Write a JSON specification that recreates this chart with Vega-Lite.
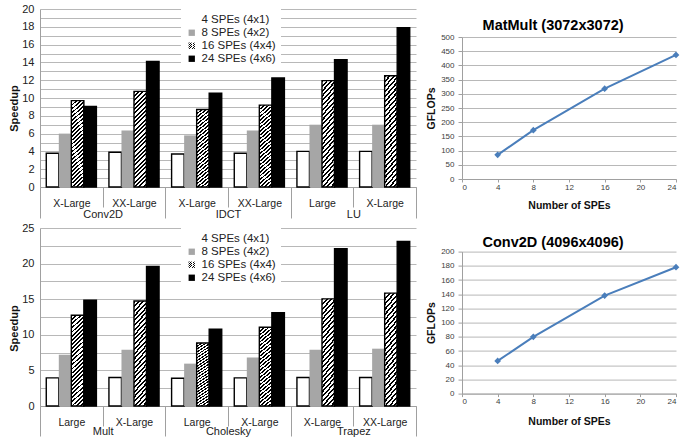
{
  "$schema": "https://vega.github.io/schema/vega-lite/v6.json",
  "padding": {"left": 8, "top": 3, "right": 0, "bottom": 0},
  "params": [
    {"name": "hatch", "expr": "{gradient:'linear',x1:0,y1:0,x2:0.1464,y2:1.1124,stops:[{offset:0,color:'#000'},{offset:0.018,color:'#000'},{offset:0.018,color:'#fff'},{offset:0.04,color:'#fff'},{offset:0.04,color:'#000'},{offset:0.058,color:'#000'},{offset:0.058,color:'#fff'},{offset:0.08,color:'#fff'},{offset:0.08,color:'#000'},{offset:0.098,color:'#000'},{offset:0.098,color:'#fff'},{offset:0.12,color:'#fff'},{offset:0.12,color:'#000'},{offset:0.138,color:'#000'},{offset:0.138,color:'#fff'},{offset:0.16,color:'#fff'},{offset:0.16,color:'#000'},{offset:0.178,color:'#000'},{offset:0.178,color:'#fff'},{offset:0.2,color:'#fff'},{offset:0.2,color:'#000'},{offset:0.218,color:'#000'},{offset:0.218,color:'#fff'},{offset:0.24,color:'#fff'},{offset:0.24,color:'#000'},{offset:0.258,color:'#000'},{offset:0.258,color:'#fff'},{offset:0.28,color:'#fff'},{offset:0.28,color:'#000'},{offset:0.298,color:'#000'},{offset:0.298,color:'#fff'},{offset:0.32,color:'#fff'},{offset:0.32,color:'#000'},{offset:0.338,color:'#000'},{offset:0.338,color:'#fff'},{offset:0.36,color:'#fff'},{offset:0.36,color:'#000'},{offset:0.378,color:'#000'},{offset:0.378,color:'#fff'},{offset:0.4,color:'#fff'},{offset:0.4,color:'#000'},{offset:0.418,color:'#000'},{offset:0.418,color:'#fff'},{offset:0.44,color:'#fff'},{offset:0.44,color:'#000'},{offset:0.458,color:'#000'},{offset:0.458,color:'#fff'},{offset:0.48,color:'#fff'},{offset:0.48,color:'#000'},{offset:0.498,color:'#000'},{offset:0.498,color:'#fff'},{offset:0.52,color:'#fff'},{offset:0.52,color:'#000'},{offset:0.538,color:'#000'},{offset:0.538,color:'#fff'},{offset:0.56,color:'#fff'},{offset:0.56,color:'#000'},{offset:0.578,color:'#000'},{offset:0.578,color:'#fff'},{offset:0.6,color:'#fff'},{offset:0.6,color:'#000'},{offset:0.618,color:'#000'},{offset:0.618,color:'#fff'},{offset:0.64,color:'#fff'},{offset:0.64,color:'#000'},{offset:0.658,color:'#000'},{offset:0.658,color:'#fff'},{offset:0.68,color:'#fff'},{offset:0.68,color:'#000'},{offset:0.698,color:'#000'},{offset:0.698,color:'#fff'},{offset:0.72,color:'#fff'},{offset:0.72,color:'#000'},{offset:0.738,color:'#000'},{offset:0.738,color:'#fff'},{offset:0.76,color:'#fff'},{offset:0.76,color:'#000'},{offset:0.778,color:'#000'},{offset:0.778,color:'#fff'},{offset:0.8,color:'#fff'},{offset:0.8,color:'#000'},{offset:0.818,color:'#000'},{offset:0.818,color:'#fff'},{offset:0.84,color:'#fff'},{offset:0.84,color:'#000'},{offset:0.858,color:'#000'},{offset:0.858,color:'#fff'},{offset:0.88,color:'#fff'},{offset:0.88,color:'#000'},{offset:0.898,color:'#000'},{offset:0.898,color:'#fff'},{offset:0.92,color:'#fff'},{offset:0.92,color:'#000'},{offset:0.938,color:'#000'},{offset:0.938,color:'#fff'},{offset:0.96,color:'#fff'},{offset:0.96,color:'#000'},{offset:0.978,color:'#000'},{offset:0.978,color:'#fff'},{offset:1,color:'#fff'}]}"}
  ],
  "datasets": {
    "speed1": [
      {"bench": "Conv2D", "cat": "Conv2D|X-Large", "series": "4 SPEs (4x1)", "v": 3.8},
      {"bench": "Conv2D", "cat": "Conv2D|X-Large", "series": "8 SPEs (4x2)", "v": 6.0},
      {"bench": "Conv2D", "cat": "Conv2D|X-Large", "series": "16 SPEs (4x4)", "v": 9.7},
      {"bench": "Conv2D", "cat": "Conv2D|X-Large", "series": "24 SPEs (4x6)", "v": 9.05},
      {"bench": "Conv2D", "cat": "Conv2D|XX-Large", "series": "4 SPEs (4x1)", "v": 3.9},
      {"bench": "Conv2D", "cat": "Conv2D|XX-Large", "series": "8 SPEs (4x2)", "v": 6.35},
      {"bench": "Conv2D", "cat": "Conv2D|XX-Large", "series": "16 SPEs (4x4)", "v": 10.75},
      {"bench": "Conv2D", "cat": "Conv2D|XX-Large", "series": "24 SPEs (4x6)", "v": 14.1},
      {"bench": "IDCT", "cat": "IDCT|X-Large", "series": "4 SPEs (4x1)", "v": 3.7},
      {"bench": "IDCT", "cat": "IDCT|X-Large", "series": "8 SPEs (4x2)", "v": 5.8},
      {"bench": "IDCT", "cat": "IDCT|X-Large", "series": "16 SPEs (4x4)", "v": 8.7},
      {"bench": "IDCT", "cat": "IDCT|X-Large", "series": "24 SPEs (4x6)", "v": 10.55},
      {"bench": "IDCT", "cat": "IDCT|XX-Large", "series": "4 SPEs (4x1)", "v": 3.8},
      {"bench": "IDCT", "cat": "IDCT|XX-Large", "series": "8 SPEs (4x2)", "v": 6.35},
      {"bench": "IDCT", "cat": "IDCT|XX-Large", "series": "16 SPEs (4x4)", "v": 9.2},
      {"bench": "IDCT", "cat": "IDCT|XX-Large", "series": "24 SPEs (4x6)", "v": 12.25},
      {"bench": "LU", "cat": "LU|Large", "series": "4 SPEs (4x1)", "v": 4.0},
      {"bench": "LU", "cat": "LU|Large", "series": "8 SPEs (4x2)", "v": 7.0},
      {"bench": "LU", "cat": "LU|Large", "series": "16 SPEs (4x4)", "v": 11.95},
      {"bench": "LU", "cat": "LU|Large", "series": "24 SPEs (4x6)", "v": 14.3},
      {"bench": "LU", "cat": "LU|X-Large", "series": "4 SPEs (4x1)", "v": 4.0},
      {"bench": "LU", "cat": "LU|X-Large", "series": "8 SPEs (4x2)", "v": 7.0},
      {"bench": "LU", "cat": "LU|X-Large", "series": "16 SPEs (4x4)", "v": 12.5},
      {"bench": "LU", "cat": "LU|X-Large", "series": "24 SPEs (4x6)", "v": 17.9}
    ],
    "speed2": [
      {"bench": "Mult", "cat": "Mult|Large", "series": "4 SPEs (4x1)", "v": 3.95},
      {"bench": "Mult", "cat": "Mult|Large", "series": "8 SPEs (4x2)", "v": 7.2},
      {"bench": "Mult", "cat": "Mult|Large", "series": "16 SPEs (4x4)", "v": 12.75},
      {"bench": "Mult", "cat": "Mult|Large", "series": "24 SPEs (4x6)", "v": 14.85},
      {"bench": "Mult", "cat": "Mult|X-Large", "series": "4 SPEs (4x1)", "v": 4.0},
      {"bench": "Mult", "cat": "Mult|X-Large", "series": "8 SPEs (4x2)", "v": 7.9},
      {"bench": "Mult", "cat": "Mult|X-Large", "series": "16 SPEs (4x4)", "v": 14.75},
      {"bench": "Mult", "cat": "Mult|X-Large", "series": "24 SPEs (4x6)", "v": 19.6},
      {"bench": "Cholesky", "cat": "Cholesky|Large", "series": "4 SPEs (4x1)", "v": 3.9},
      {"bench": "Cholesky", "cat": "Cholesky|Large", "series": "8 SPEs (4x2)", "v": 5.95},
      {"bench": "Cholesky", "cat": "Cholesky|Large", "series": "16 SPEs (4x4)", "v": 8.85},
      {"bench": "Cholesky", "cat": "Cholesky|Large", "series": "24 SPEs (4x6)", "v": 10.8},
      {"bench": "Cholesky", "cat": "Cholesky|X-Large", "series": "4 SPEs (4x1)", "v": 3.95},
      {"bench": "Cholesky", "cat": "Cholesky|X-Large", "series": "8 SPEs (4x2)", "v": 6.8},
      {"bench": "Cholesky", "cat": "Cholesky|X-Large", "series": "16 SPEs (4x4)", "v": 11.05},
      {"bench": "Cholesky", "cat": "Cholesky|X-Large", "series": "24 SPEs (4x6)", "v": 13.1},
      {"bench": "Trapez", "cat": "Trapez|X-Large", "series": "4 SPEs (4x1)", "v": 4.0},
      {"bench": "Trapez", "cat": "Trapez|X-Large", "series": "8 SPEs (4x2)", "v": 7.9},
      {"bench": "Trapez", "cat": "Trapez|X-Large", "series": "16 SPEs (4x4)", "v": 15.05},
      {"bench": "Trapez", "cat": "Trapez|X-Large", "series": "24 SPEs (4x6)", "v": 22.1},
      {"bench": "Trapez", "cat": "Trapez|XX-Large", "series": "4 SPEs (4x1)", "v": 4.0},
      {"bench": "Trapez", "cat": "Trapez|XX-Large", "series": "8 SPEs (4x2)", "v": 8.05},
      {"bench": "Trapez", "cat": "Trapez|XX-Large", "series": "16 SPEs (4x4)", "v": 15.85},
      {"bench": "Trapez", "cat": "Trapez|XX-Large", "series": "24 SPEs (4x6)", "v": 23.1}
    ],
    "gf1": [
      {"spe": 4, "g": 85},
      {"spe": 8, "g": 172},
      {"spe": 16, "g": 318},
      {"spe": 24, "g": 437}
    ],
    "gf2": [
      {"spe": 4, "g": 46},
      {"spe": 8, "g": 80},
      {"spe": 16, "g": 138},
      {"spe": 24, "g": 178}
    ]
  },
  "config": {
    "view": {"stroke": null},
    "axis": {
      "labelFont": "Liberation Sans",
      "titleFont": "Liberation Sans",
      "domainColor": "#a0a0a0",
      "tickColor": "#a0a0a0",
      "gridColor": "#b8b8b8",
      "labelColor": "#222222",
      "titleColor": "#111111"
    },
    "legend": {
      "labelFont": "Liberation Sans",
      "labelFontSize": 11.5,
      "labelColor": "#222222",
      "symbolType": "square",
      "symbolSize": 40,
      "symbolStrokeWidth": 0,
      "fillColor": "#ffffff",
      "padding": 5,
      "rowPadding": 0,
      "labelOffset": 4
    }
  },
  "spacing": 9,
  "hconcat": [
    {
      "spacing": 2,
      "resolve": {"scale": {"fill": "independent", "stroke": "independent"}},
      "vconcat": [
        {
          "width": 376,
          "height": 178,
          "data": {"name": "speed1"},
          "resolve": {"scale": {"x": "independent"}},
          "layer": [
            {
              "mark": {"type": "bar", "strokeWidth": 1.4},
              "encoding": {
                "x": {"field": "cat", "type": "nominal", "sort": null, "scale": {"paddingInner": 0, "paddingOuter": 0},
                  "axis": {"orient": "bottom", "title": null, "labelAngle": 0, "labelExpr": "split(datum.label, '|')[1]", "tickBand": "extent", "tickSize": 20, "labelPadding": -8.5, "labelFontSize": 10.5, "grid": false}},
                "xOffset": {"field": "series", "type": "nominal", "sort": ["4 SPEs (4x1)", "8 SPEs (4x2)", "16 SPEs (4x4)", "24 SPEs (4x6)"], "scale": {"paddingInner": 0, "paddingOuter": 0.5}},
                "y": {"field": "v", "type": "quantitative", "scale": {"domain": [0, 20], "nice": false},
                  "axis": {"values": [0,1,2,3,4,5,6,7,8,9,10,11,12,13,14,15,16,17,18,19,20], "labelExpr": "datum.value % 2 === 0 ? datum.label : ''", "labelOverlap": false, "title": "Speedup", "titleX": -21, "titleY": 99, "grid": true, "ticks": false, "labelPadding": 6, "labelFontSize": 11, "titleFontSize": 11, "titleFontWeight": "bold"}},
                "fill": {"field": "series", "type": "nominal",
                  "scale": {"domain": ["4 SPEs (4x1)", "8 SPEs (4x2)", "16 SPEs (4x4)", "24 SPEs (4x6)"], "range": ["#ffffff", "#a6a6a6", {"expr": "hatch"}, "#000000"]},
                  "legend": {"title": null, "orient": "none", "legendX": 141, "legendY": 0}},
                "stroke": {"field": "series", "type": "nominal",
                  "scale": {"domain": ["4 SPEs (4x1)", "8 SPEs (4x2)", "16 SPEs (4x4)", "24 SPEs (4x6)"], "range": ["#000000", "transparent", "#000000", "#000000"]},
                  "legend": null}
              }
            },
            {
              "mark": {"type": "tick", "opacity": 0},
              "encoding": {
                "x": {"field": "bench", "type": "nominal", "sort": null, "scale": {"paddingInner": 0, "paddingOuter": 0},
                  "axis": {"orient": "bottom", "title": null, "labelAngle": 0, "tickBand": "extent", "tickSize": 31, "domain": false, "labelPadding": -9.5, "labelFontSize": 11, "grid": false}}
              }
            }
          ]
        },
        {
          "width": 376,
          "height": 178,
          "data": {"name": "speed2"},
          "resolve": {"scale": {"x": "independent"}},
          "layer": [
            {
              "mark": {"type": "bar", "strokeWidth": 1.4},
              "encoding": {
                "x": {"field": "cat", "type": "nominal", "sort": null, "scale": {"paddingInner": 0, "paddingOuter": 0},
                  "axis": {"orient": "bottom", "title": null, "labelAngle": 0, "labelExpr": "split(datum.label, '|')[1]", "tickBand": "extent", "tickSize": 20, "labelPadding": -8.5, "labelFontSize": 10.5, "grid": false}},
                "xOffset": {"field": "series", "type": "nominal", "sort": ["4 SPEs (4x1)", "8 SPEs (4x2)", "16 SPEs (4x4)", "24 SPEs (4x6)"], "scale": {"paddingInner": 0, "paddingOuter": 0.5}},
                "y": {"field": "v", "type": "quantitative", "scale": {"domain": [0, 25], "nice": false},
                  "axis": {"values": [0,2.5,5,7.5,10,12.5,15,17.5,20,22.5,25], "labelExpr": "datum.value % 5 === 0 ? datum.label : ''", "labelOverlap": false, "title": "Speedup", "titleX": -21, "titleY": 100, "grid": true, "ticks": false, "labelPadding": 6, "labelFontSize": 11, "titleFontSize": 11, "titleFontWeight": "bold"}},
                "fill": {"field": "series", "type": "nominal",
                  "scale": {"domain": ["4 SPEs (4x1)", "8 SPEs (4x2)", "16 SPEs (4x4)", "24 SPEs (4x6)"], "range": ["#ffffff", "#a6a6a6", {"expr": "hatch"}, "#000000"]},
                  "legend": {"title": null, "orient": "none", "legendX": 141, "legendY": 0}},
                "stroke": {"field": "series", "type": "nominal",
                  "scale": {"domain": ["4 SPEs (4x1)", "8 SPEs (4x2)", "16 SPEs (4x4)", "24 SPEs (4x6)"], "range": ["#000000", "transparent", "#000000", "#000000"]},
                  "legend": null}
              }
            },
            {
              "mark": {"type": "tick", "opacity": 0},
              "encoding": {
                "x": {"field": "bench", "type": "nominal", "sort": null, "scale": {"paddingInner": 0, "paddingOuter": 0},
                  "axis": {"orient": "bottom", "title": null, "labelAngle": 0, "tickBand": "extent", "tickSize": 30, "domain": false, "labelPadding": -10.5, "labelFontSize": 11, "grid": false}}
              }
            }
          ]
        }
      ]
    },
    {
      "spacing": 23.6,
      "vconcat": [
        {
          "spacing": 0,
          "vconcat": [
            {
              "width": 214,
              "height": 7.2,
              "data": {"values": [{}]},
              "mark": {"type": "rect", "opacity": 0},
              "encoding": {}
            },
            {
              "width": 214,
              "height": 142,
              "data": {"name": "gf1"},
              "title": {"text": "MatMult (3072x3072)", "font": "Liberation Sans", "fontSize": 14.5, "fontWeight": "bold", "offset": 0, "frame": "bounds", "anchor": "middle", "color": "#000000"},
              "mark": {"type": "line", "color": "#4a7ebb", "strokeWidth": 2, "point": {"shape": "diamond", "size": 45, "filled": true, "color": "#4a7ebb"}},
              "encoding": {
                "x": {"field": "spe", "type": "quantitative", "scale": {"domain": [0, 24], "nice": false},
                  "axis": {"values": [0,4,8,12,16,20,24], "title": "Number of SPEs", "grid": false, "tickSize": 3, "labelPadding": 1, "labelFontSize": 8, "labelColor": "#404040", "titleFontSize": 10.5, "titleFontWeight": "bold", "titlePadding": 9}},
                "y": {"field": "g", "type": "quantitative", "scale": {"domain": [0, 500], "nice": false},
                  "axis": {"values": [0,50,100,150,200,250,300,350,400,450,500], "title": "GFLOPs", "grid": true, "tickSize": 4, "labelPadding": 4, "labelFontSize": 8, "labelColor": "#404040", "titleFontSize": 10.5, "titleFontWeight": "bold", "titlePadding": 4.5}}
              }
            }
          ]
        },
        {
          "width": 214,
          "height": 142,
          "data": {"name": "gf2"},
          "title": {"text": "Conv2D (4096x4096)", "font": "Liberation Sans", "fontSize": 14.5, "fontWeight": "bold", "offset": -2.5, "frame": "bounds", "anchor": "middle", "color": "#000000"},
          "mark": {"type": "line", "color": "#4a7ebb", "strokeWidth": 2, "point": {"shape": "diamond", "size": 45, "filled": true, "color": "#4a7ebb"}},
          "encoding": {
            "x": {"field": "spe", "type": "quantitative", "scale": {"domain": [0, 24], "nice": false},
              "axis": {"values": [0,4,8,12,16,20,24], "title": "Number of SPEs", "grid": false, "tickSize": 3, "labelPadding": 1, "labelFontSize": 8, "labelColor": "#404040", "titleFontSize": 10.5, "titleFontWeight": "bold", "titlePadding": 11}},
            "y": {"field": "g", "type": "quantitative", "scale": {"domain": [0, 200], "nice": false},
              "axis": {"values": [0,20,40,60,80,100,120,140,160,180,200], "title": "GFLOPs", "grid": true, "tickSize": 4, "labelPadding": 4, "labelFontSize": 8, "labelColor": "#404040", "titleFontSize": 10.5, "titleFontWeight": "bold", "titlePadding": 4.5}}
          }
        }
      ]
    }
  ]
}
